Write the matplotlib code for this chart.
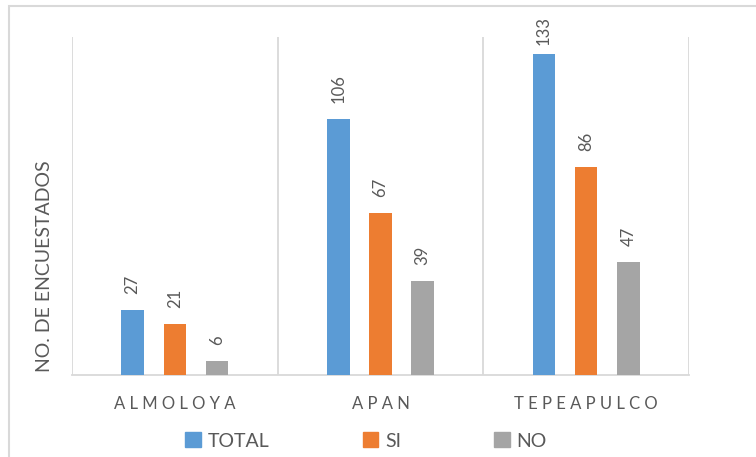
import matplotlib
matplotlib.use("Agg")
import matplotlib.pyplot as plt
import matplotlib.patches as mpatches
import numpy as np

plt.rcParams['font.family'] = ['Lato', 'DejaVu Sans']

categories = ["ALMOLOYA", "APAN", "TEPEAPULCO"]
series_names = ["TOTAL", "SI", "NO"]
total = [27, 106, 133]
si = [21, 67, 86]
no = [6, 39, 47]
colors = ["#5B9BD5", "#ED7D31", "#A5A5A5"]
text_color = "#595959"
line_color = "#D9D9D9"

W, H = 756, 457
fig = plt.figure(figsize=(W / 100, H / 100), dpi=100)
ax = fig.add_axes([72 / W, 1 - 375 / H, (689 - 72) / W, (375 - 37) / H])

x = np.arange(len(categories))
width = 0.11
offsets = [-0.205, 0.0, 0.205]
all_series = [total, si, no]

for vals, off, col, name in zip(all_series, offsets, colors, series_names):
    ax.bar(x + off, vals, width, color=col, label=name, zorder=3)

ax.set_xlim(-0.5, 2.5)
ax.set_ylim(0, 140)

# value labels, kept inside the chart area when the bar is tall
px_per_unit = (375 - 37) / 140
for vals, off in zip(all_series, offsets):
    for xi, v in zip(x, vals):
        top_px = 375 - v * px_per_unit
        gap_px = 16
        label_len = 30 if v >= 100 else 20
        if top_px - gap_px - label_len < 15:
            gap_px = top_px - label_len - 15
        ax.annotate(str(v), (xi + off, v), xytext=(0, gap_px * 72 / 100),
                    textcoords="offset points", rotation=90,
                    ha="center", va="bottom", fontsize=12, color=text_color)

# category separators
for xs in [-0.5, 0.5, 1.5, 2.5]:
    ax.axvline(xs, color=line_color, lw=1.3, zorder=1)

for s in ["top", "left", "right"]:
    ax.spines[s].set_visible(False)
ax.spines["bottom"].set_color(line_color)
ax.spines["bottom"].set_linewidth(1.3)
ax.set_yticks([])
ax.set_xticks(x)
ax.set_xticklabels([" ".join(c) for c in categories], fontsize=12, color=text_color)
ax.tick_params(axis="x", length=0, pad=15)

fig.text(45 / W, 1 - 266 / H, "NO. DE ENCUESTADOS", rotation=90,
         ha="center", va="center", fontsize=14, color=text_color)

handles = [mpatches.Patch(color=c) for c in colors]
leg = fig.legend(handles, series_names, loc="center", ncol=3,
                 bbox_to_anchor=(366 / W, 1 - 441 / H), frameon=False,
                 fontsize=14, handlelength=0.8, handleheight=0.8,
                 handletextpad=0.35, columnspacing=4.8)
for t in leg.get_texts():
    t.set_color(text_color)

# outer chart frame
frame = mpatches.Rectangle((9 / W, -0.1), 2, 1 - 6 / H + 0.1,
                           transform=fig.transFigure, fill=False,
                           edgecolor=line_color, lw=1.5, clip_on=False)
fig.patches.append(frame)

fig.savefig("out.png", dpi=100)
